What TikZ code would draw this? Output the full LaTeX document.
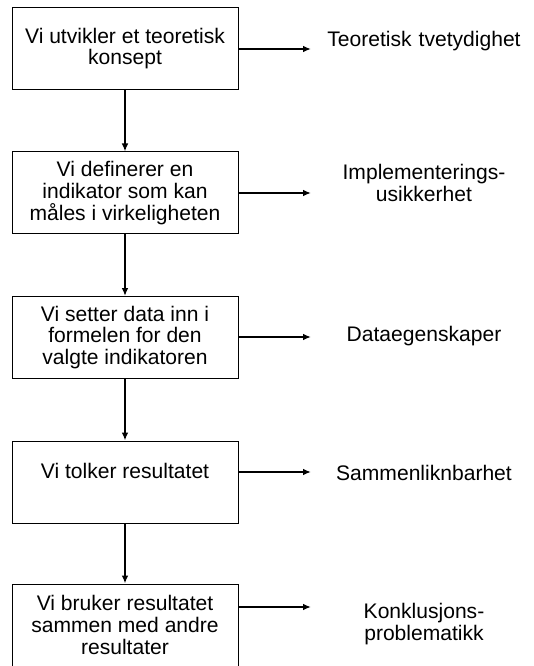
\documentclass[tikz,border=0pt]{standalone}
\usepackage{fontspec}
\setmainfont{Liberation Sans}
\usetikzlibrary{arrows.meta,positioning,calc}
\tikzset{
  every node/.style={font=\fontsize{15.8pt}{16.3pt}\selectfont, text=black},
  box/.style={rectangle, draw, line width=0.75pt, align=center,
    minimum width=169.5pt, minimum height=61.5pt, inner sep=2pt},
  note/.style={align=center, text width=165pt, inner sep=0pt},
  flow/.style={-{Latex[length=6pt,width=5pt]}, line width=1.5pt},
  downflow/.style={-{Latex[length=6pt,width=5pt]}, line width=1.9pt},
}
\begin{document}
\begin{tikzpicture}[x=0.75pt,y=-0.75pt]
\useasboundingbox (0,0) rectangle (533,666);

% left column of steps and right column of problems
\def\xb{125}
\def\xn{424}

% ---- Steps ---------------------------------------------------------------
\node[box] (b1) at (\xb,48.5) {Vi utvikler et teoretisk\\ konsept};
\node[box] (b2) at (\xb,193)  {Vi definerer en\\ indikator som kan\\ måles i virkeligheten};
\node[box] (b3) at (\xb,337.5) {Vi setter data inn i\\ formelen for den\\ valgte indikatoren};
\node[box] (b4) at (\xb,482)  {Vi tolker resultatet\\ \mbox{}};
\node[box] (b5) at (\xb,625)  {Vi bruker resultatet\\ sammen med andre\\ resultater};

\foreach \a/\b in {b1/b2,b2/b3,b3/b4,b4/b5}
  \draw[downflow] (\a.south) -- (\b.north);

% ---- Problems ------------------------------------------------------------
\node[note] (l1) at (\xn,41)  {Teoretisk tvetydighet};
\node[note] (l2) at (\xn,183) {Implementerings-\\ usikkerhet};
\node[note] (l3) at (\xn,336) {Dataegenskaper};
\node[note] (l4) at (\xn,473) {Sammenliknbarhet};
\node[note] (l5) at (\xn,624) {Konklusjons-\\ problematikk};

\coordinate (t1) at (311,49);
\coordinate (t2) at (311,193);
\coordinate (t3) at (311,337);
\coordinate (t4) at (311,472);
\coordinate (t5) at (311,607);

\foreach \n in {1,...,5}
  \draw[flow] (b\n.east |- t\n) -- (t\n);

\end{tikzpicture}
\end{document}
